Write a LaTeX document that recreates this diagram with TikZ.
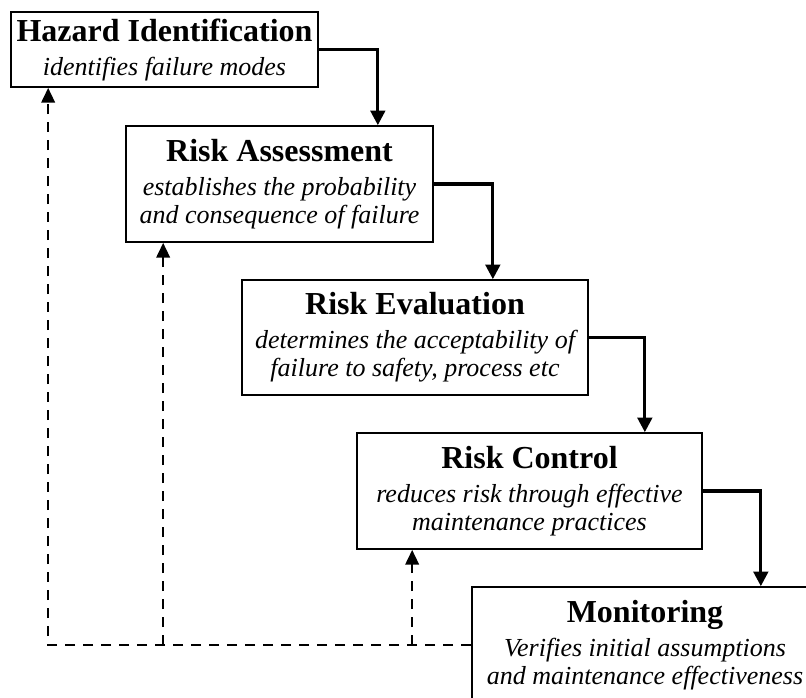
\documentclass[tikz,border=0pt]{standalone}
\usepackage{fontspec}
\setmainfont{Liberation Serif}
\usetikzlibrary{arrows.meta,calc}

\tikzset{
  stage/.style={draw, line width=1.25pt, inner sep=0pt, align=center, fill=white,
    font=\fontsize{19.5}{21}\selectfont\itshape},
  flow/.style={line width=2.3pt, -{Triangle[length=11pt,width=11pt]}},
  feedback/.style={line width=1.8pt, dash pattern=on 7.5pt off 6pt,
    -{Triangle[length=11pt,width=10pt]}}
}
\newcommand{\stagetitle}[1]{{\fontsize{24}{28}\selectfont\upshape\bfseries #1}}

\begin{document}
\begin{tikzpicture}[x=0.75pt,y=0.75pt,yscale=-1,xscale=1]
\clip (0,0) rectangle (806,697);

%Shape: Rectangle [Hazard Identification]
\node [stage, minimum width=230.25pt, minimum height=56.25pt] (hazard) at (164.5,49.5)
  {\stagetitle{Hazard Identification}\\[4.5pt] identifies failure modes};
%Shape: Rectangle [Risk Assessment]
\node [stage, minimum width=230.25pt, minimum height=87pt] (assess) at (279.5,184)
  {\stagetitle{Risk Assessment}\\[4.5pt] establishes the probability\\ and consequence of failure};
%Shape: Rectangle [Risk Evaluation]
\node [stage, minimum width=259.5pt, minimum height=86.25pt] (evaluate) at (415,337.5)
  {\stagetitle{Risk Evaluation}\\[4.5pt] determines the acceptability of\\ failure to safety, process etc};
%Shape: Rectangle [Risk Control]
\node [stage, minimum width=258.75pt, minimum height=87pt] (control) at (529.5,491)
  {\stagetitle{Risk Control}\\[4.5pt] reduces risk through effective\\ maintenance practices};
%Shape: Rectangle [Monitoring]
\node [stage, minimum width=259.5pt, minimum height=87pt] (monitor) at (645,645)
  {\stagetitle{Monitoring}\\[4.5pt] Verifies initial assumptions\\ and maintenance effectiveness};

%Straight Lines [forward steps]
\draw [flow] (hazard.east) -| ($(hazard.east |- assess.north)+(59,0)$);
\draw [flow] (assess.east) -| ($(assess.east |- evaluate.north)+(59,0)$);
\draw [flow] (evaluate.east) -| ($(evaluate.east |- control.north)+(56,0)$);
\draw [flow] (control.east) -| ($(control.east |- monitor.north)+(58,0)$);

%Dashed Lines [feedback]
\coordinate (fbhazard) at ($(hazard.south west)+(38,0)$);
\coordinate (fbassess) at ($(assess.south west)+(38,0)$);
\coordinate (fbcontrol) at ($(control.south west)+(56,0)$);
\draw [feedback] (monitor.west) -| (fbhazard);
\draw [feedback] (fbassess |- monitor.west) -- (fbassess);
\draw [feedback] (fbcontrol |- monitor.west) -- (fbcontrol);

\end{tikzpicture}
\end{document}
